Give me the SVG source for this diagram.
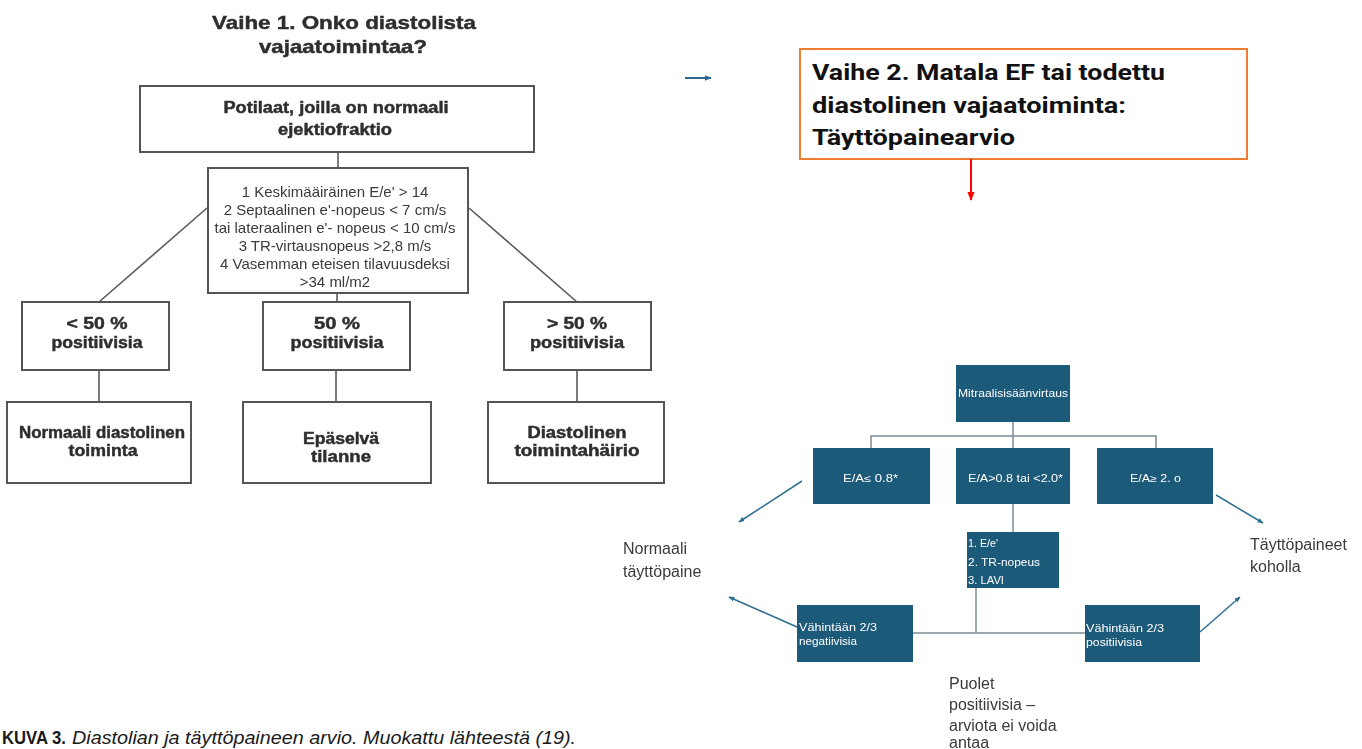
<svg xmlns="http://www.w3.org/2000/svg" width="1362" height="749" viewBox="0 0 1362 749">
  <defs>
    <filter id="soft" x="-5%" y="-5%" width="110%" height="110%">
      <feGaussianBlur stdDeviation="0.45"/>
    </filter>
    <marker id="headBlue" viewBox="0 0 10 10" refX="9" refY="5" markerWidth="7" markerHeight="7" orient="auto" markerUnits="userSpaceOnUse">
      <path d="M0,1 L10,5 L0,9 z" fill="#2b6a8e"/>
    </marker>
    <marker id="headRed" viewBox="0 0 10 10" refX="9" refY="5" markerWidth="9" markerHeight="9" orient="auto" markerUnits="userSpaceOnUse">
      <path d="M0,1 L10,5 L0,9 z" fill="#ff0000"/>
    </marker>
    <marker id="headSmall" viewBox="0 0 10 10" refX="9" refY="5" markerWidth="6" markerHeight="6" orient="auto" markerUnits="userSpaceOnUse">
      <path d="M0,1 L10,5 L0,9 z" fill="#2f6f91"/>
    </marker>
  </defs>
  <style>
    .gbox { fill: #ffffff; stroke: #555555; stroke-width: 2; }
    .gline { stroke: #5a5a5a; stroke-width: 1.6; fill: none; }
    .ttl { font-family: "Liberation Sans", Arial, sans-serif; font-weight: 700; fill: #2e2e2e; stroke: #2e2e2e; stroke-width: 0.45; text-anchor: middle; }
    .crit { font-family: "Liberation Sans", Arial, sans-serif; font-size: 15px; fill: #3a3a3a; text-anchor: middle; }
    .tbox { fill: #1e5a7a; }
    .tline { stroke: #7d8b95; stroke-width: 1.5; fill: none; }
    .tarrow { stroke: #2f6f91; stroke-width: 1.5; fill: none; marker-end: url(#headSmall); }
    .wt { font-family: "Liberation Sans", Arial, sans-serif; font-size: 10px; fill: #ffffff; }
    .lbl { font-family: "Liberation Sans", Arial, sans-serif; font-size: 16px; fill: #3a3a3a; }
    .step2 { font-family: Roboto, "Liberation Sans", sans-serif; font-weight: 700; font-size: 22px; fill: #111111; }
    .cap { font-family: "Liberation Sans", Arial, sans-serif; font-size: 18px; fill: #1a1a1a; }
  </style>

  <!-- Step 1: diastolic dysfunction flow -->
  <g id="step1" filter="url(#soft)">
    <g id="title1">
      <text class="ttl" x="344" y="29" font-size="19" textLength="264" lengthAdjust="spacingAndGlyphs">Vaihe 1. Onko diastolista</text>
      <text class="ttl" x="343" y="53" font-size="19" textLength="168" lengthAdjust="spacingAndGlyphs">vajaatoimintaa?</text>
    </g>

    <g id="connectors1">
      <line class="gline" x1="338" y1="152" x2="338" y2="168"/>
      <line class="gline" x1="207" y1="208" x2="99" y2="302"/>
      <line class="gline" x1="469" y1="208" x2="577" y2="302"/>
      <line class="gline" x1="337" y1="293" x2="337" y2="302"/>
      <line class="gline" x1="99" y1="370" x2="99" y2="402"/>
      <line class="gline" x1="336" y1="370" x2="336" y2="402"/>
      <line class="gline" x1="577" y1="370" x2="577" y2="402"/>
    </g>

    <g id="patients">
      <rect class="gbox" x="140" y="86" width="394" height="66"/>
      <text class="ttl" x="336" y="113" font-size="16" textLength="225" lengthAdjust="spacingAndGlyphs">Potilaat, joilla on normaali</text>
      <text class="ttl" x="335" y="135" font-size="16" textLength="114" lengthAdjust="spacingAndGlyphs">ejektiofraktio</text>
    </g>

    <g id="criteria">
      <rect class="gbox" x="208" y="168" width="260" height="125"/>
      <text class="crit" x="335" y="197">1 Keskimääiräinen E/e' &gt; 14</text>
      <text class="crit" x="335" y="215">2 Septaalinen e'-nopeus &lt; 7 cm/s</text>
      <text class="crit" x="335" y="233">tai lateraalinen e'- nopeus &lt; 10 cm/s</text>
      <text class="crit" x="335" y="251">3 TR-virtausnopeus &gt;2,8 m/s</text>
      <text class="crit" x="335" y="269">4 Vasemman eteisen tilavuusdeksi</text>
      <text class="crit" x="335" y="287">&gt;34 ml/m2</text>
    </g>

    <g id="less50">
      <rect class="gbox" x="22" y="302" width="147" height="68"/>
      <text class="ttl" x="97" y="329" font-size="16" textLength="61" lengthAdjust="spacingAndGlyphs">&lt; 50 %</text>
      <text class="ttl" x="97" y="348" font-size="16" textLength="91" lengthAdjust="spacingAndGlyphs">positiivisia</text>
    </g>
    <g id="eq50">
      <rect class="gbox" x="263" y="302" width="147" height="68"/>
      <text class="ttl" x="337" y="329" font-size="16" textLength="46" lengthAdjust="spacingAndGlyphs">50 %</text>
      <text class="ttl" x="337" y="348" font-size="16" textLength="93" lengthAdjust="spacingAndGlyphs">positiivisia</text>
    </g>
    <g id="more50">
      <rect class="gbox" x="504" y="302" width="147" height="68"/>
      <text class="ttl" x="577" y="329" font-size="16" textLength="60" lengthAdjust="spacingAndGlyphs">&gt; 50 %</text>
      <text class="ttl" x="577" y="348" font-size="16" textLength="94" lengthAdjust="spacingAndGlyphs">positiivisia</text>
    </g>

    <g id="normal">
      <rect class="gbox" x="7" y="402" width="184" height="81"/>
      <text class="ttl" x="102" y="438" font-size="16" textLength="166" lengthAdjust="spacingAndGlyphs">Normaali diastolinen</text>
      <text class="ttl" x="103" y="456" font-size="16" textLength="69" lengthAdjust="spacingAndGlyphs">toiminta</text>
    </g>
    <g id="unclear">
      <rect class="gbox" x="243" y="402" width="188" height="81"/>
      <text class="ttl" x="341" y="444" font-size="16" textLength="76" lengthAdjust="spacingAndGlyphs">Epäselvä</text>
      <text class="ttl" x="341" y="462" font-size="16" textLength="60" lengthAdjust="spacingAndGlyphs">tilanne</text>
    </g>
    <g id="dysfunction">
      <rect class="gbox" x="488" y="402" width="176" height="81"/>
      <text class="ttl" x="577" y="438" font-size="16" textLength="99" lengthAdjust="spacingAndGlyphs">Diastolinen</text>
      <text class="ttl" x="577" y="456" font-size="16" textLength="125" lengthAdjust="spacingAndGlyphs">toimintahäirio</text>
    </g>
  </g>

  <!-- Step 2 heading -->
  <g id="step2">
    <line x1="685" y1="78" x2="711" y2="78" stroke="#2b6a8e" stroke-width="2" marker-end="url(#headBlue)"/>
    <rect x="800" y="49" width="447" height="110" fill="#ffffff" stroke="#ed7d31" stroke-width="2"/>
    <text class="step2" x="812" y="80" textLength="353" lengthAdjust="spacingAndGlyphs">Vaihe 2. Matala EF tai todettu</text>
    <text class="step2" x="812" y="113" textLength="314" lengthAdjust="spacingAndGlyphs">diastolinen vajaatoiminta:</text>
    <text class="step2" x="812" y="145" textLength="203" lengthAdjust="spacingAndGlyphs">Täyttöpainearvio</text>
    <line x1="971" y1="159" x2="971" y2="200" stroke="#ff0000" stroke-width="2" marker-end="url(#headRed)"/>
  </g>

  <!-- Step 2: filling pressure flow -->
  <g id="step2flow" filter="url(#soft)">
    <g id="connectors2">
      <polyline class="tline" points="1013,422 1013,436"/>
      <polyline class="tline" points="871,448 871,436 1156,436 1156,448"/>
      <polyline class="tline" points="1013,436 1013,448"/>
      <polyline class="tline" points="1013,504 1013,532"/>
      <polyline class="tline" points="976,588 976,633"/>
      <polyline class="tline" points="913,633 1086,633"/>
      <line class="tarrow" x1="802" y1="481" x2="739" y2="522"/>
      <line class="tarrow" x1="1216" y1="495" x2="1263" y2="523"/>
      <line class="tarrow" x1="797" y1="627" x2="729" y2="597"/>
      <line class="tarrow" x1="1200" y1="632" x2="1240" y2="597"/>
    </g>

    <g id="mitral">
      <rect class="tbox" x="956" y="365" width="114" height="57"/>
      <text class="wt" x="958" y="397" textLength="110" lengthAdjust="spacingAndGlyphs">Mitraalisisäänvirtaus</text>
    </g>
    <g id="eaLow">
      <rect class="tbox" x="813" y="448" width="117" height="56"/>
      <text class="wt" x="843" y="482" textLength="55" lengthAdjust="spacingAndGlyphs">E/A≤ 0.8*</text>
    </g>
    <g id="eaMid">
      <rect class="tbox" x="956" y="448" width="114" height="56"/>
      <text class="wt" x="968" y="482" textLength="95" lengthAdjust="spacingAndGlyphs">E/A&gt;0.8 tai &lt;2.0*</text>
    </g>
    <g id="eaHigh">
      <rect class="tbox" x="1097" y="448" width="116" height="56"/>
      <text class="wt" x="1130" y="482" textLength="51" lengthAdjust="spacingAndGlyphs">E/A≥ 2. o</text>
    </g>
    <g id="measures">
      <rect class="tbox" x="967" y="532" width="92" height="56"/>
      <text class="wt" x="968" y="547" textLength="30" lengthAdjust="spacingAndGlyphs">1. E/e'</text>
      <text class="wt" x="968" y="566" textLength="72" lengthAdjust="spacingAndGlyphs">2. TR-nopeus</text>
      <text class="wt" x="968" y="584" textLength="36" lengthAdjust="spacingAndGlyphs">3. LAVI</text>
    </g>
    <g id="negatives">
      <rect class="tbox" x="797" y="605" width="116" height="57"/>
      <text class="wt" x="799" y="631" textLength="78" lengthAdjust="spacingAndGlyphs">Vähintään 2/3</text>
      <text class="wt" x="799" y="645" textLength="58" lengthAdjust="spacingAndGlyphs">negatiivisia</text>
    </g>
    <g id="positives">
      <rect class="tbox" x="1085" y="605" width="115" height="57"/>
      <text class="wt" x="1086" y="632" textLength="78" lengthAdjust="spacingAndGlyphs">Vähintään 2/3</text>
      <text class="wt" x="1086" y="646" textLength="56" lengthAdjust="spacingAndGlyphs">positiivisia</text>
    </g>

    <g id="normalPressure">
      <text class="lbl" x="623" y="554">Normaali</text>
      <text class="lbl" x="623" y="577">täyttöpaine</text>
    </g>
    <g id="raisedPressure">
      <text class="lbl" x="1250" y="550">Täyttöpaineet</text>
      <text class="lbl" x="1250" y="572">koholla</text>
    </g>
    <g id="halfPositive">
      <text class="lbl" x="949" y="689">Puolet</text>
      <text class="lbl" x="949" y="710">positiivisia –</text>
      <text class="lbl" x="949" y="731">arviota ei voida</text>
      <text class="lbl" x="949" y="748">antaa</text>
    </g>
  </g>

  <!-- Caption -->
  <g id="caption">
    <text class="cap" x="2" y="744" font-weight="700" textLength="64" lengthAdjust="spacingAndGlyphs">KUVA 3.</text>
    <text class="cap" x="72" y="744" font-style="italic" textLength="504" lengthAdjust="spacingAndGlyphs">Diastolian ja täyttöpaineen arvio. Muokattu lähteestä (19).</text>
  </g>
</svg>
